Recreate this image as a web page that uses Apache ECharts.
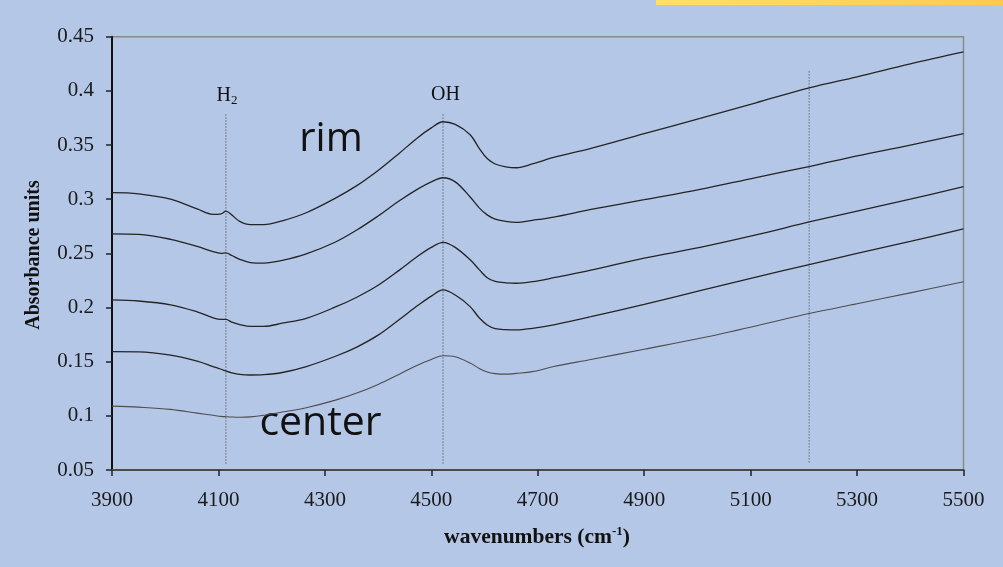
<!DOCTYPE html>
<html>
<head>
<meta charset="utf-8">
<title>Absorbance spectra, rim to center</title>
<script src="https://cdn.jsdelivr.net/npm/echarts@6/dist/echarts.min.js"></script>
<style>
  html, body { margin: 0; padding: 0; background: #b4c7e7; }
  #chart { width: 1003px; height: 567px; }
</style>
</head>
<body>
<div id="chart"></div>
<script>
// Wavenumber grid (cm-1) shared by all spectra
const wavenumbers = [3900, 3950, 4010, 4060, 4090, 4105, 4114, 4125, 4140, 4160, 4185, 4220, 4265, 4320, 4360, 4400, 4440, 4475, 4500, 4522, 4545, 4573, 4590, 4605, 4620, 4640, 4660, 4690, 4730, 4800, 4900, 5005, 5110, 5212, 5300, 5400, 5500];

// Absorbance profiles, from the rim (top) to the center (bottom)
const rimSpectrum = [0.306, 0.305, 0.300, 0.291, 0.286, 0.2865, 0.289, 0.2855, 0.2795, 0.2765, 0.2765, 0.280, 0.2875, 0.301, 0.3125, 0.3265, 0.3425, 0.357, 0.3658, 0.3715, 0.369, 0.3595, 0.347, 0.3375, 0.3325, 0.3298, 0.329, 0.3325, 0.3385, 0.347, 0.3605, 0.3745, 0.389, 0.403, 0.413, 0.425, 0.436];
const spectrum2 = [0.268, 0.2675, 0.263, 0.2565, 0.2515, 0.250, 0.2505, 0.248, 0.2445, 0.2415, 0.241, 0.2435, 0.2495, 0.2605, 0.2715, 0.2845, 0.2985, 0.3095, 0.316, 0.3198, 0.316, 0.302, 0.292, 0.2855, 0.2815, 0.2795, 0.2786, 0.2805, 0.2835, 0.2905, 0.2995, 0.309, 0.320, 0.3303, 0.340, 0.350, 0.3606];
const spectrum3 = [0.207, 0.206, 0.2025, 0.196, 0.1905, 0.189, 0.189, 0.1865, 0.1843, 0.1825, 0.1825, 0.1855, 0.190, 0.2005, 0.2095, 0.2205, 0.2345, 0.2475, 0.2555, 0.2602, 0.2555, 0.244, 0.235, 0.2275, 0.2242, 0.2228, 0.2224, 0.2238, 0.2275, 0.2345, 0.2455, 0.2555, 0.267, 0.2792, 0.289, 0.300, 0.3115];
const spectrum4 = [0.1592, 0.159, 0.156, 0.1505, 0.1455, 0.143, 0.1414, 0.1397, 0.1382, 0.1377, 0.138, 0.140, 0.1455, 0.155, 0.1635, 0.1745, 0.189, 0.202, 0.2105, 0.2162, 0.2115, 0.2008, 0.1905, 0.1838, 0.1805, 0.1795, 0.1793, 0.1808, 0.184, 0.1915, 0.203, 0.2155, 0.228, 0.2399, 0.250, 0.261, 0.2725];
const centerSpectrum = [0.109, 0.108, 0.106, 0.1025, 0.1005, 0.0995, 0.0992, 0.0989, 0.0987, 0.099, 0.1005, 0.1035, 0.1075, 0.1145, 0.121, 0.129, 0.1385, 0.147, 0.152, 0.1555, 0.1545, 0.1487, 0.1438, 0.1405, 0.139, 0.1385, 0.1392, 0.1408, 0.1455, 0.152, 0.1615, 0.1716, 0.183, 0.1947, 0.2035, 0.2135, 0.2238];

// Axis ticks
const xTicks = [3900, 4100, 4300, 4500, 4700, 4900, 5100, 5300, 5500];
const yTicks = [0.05, 0.1, 0.15, 0.2, 0.25, 0.3, 0.35, 0.4, 0.45];

// Band positions marked by dotted verticals: [wavenumber, from, to]
const bandH2 = [4114, 0.056, 0.380];
const bandOH = [4522, 0.056, 0.380];
const band5210 = [5210, 0.057, 0.418];

const serif = "'Liberation Serif', 'DejaVu Serif', serif";
const sans = "'Open Sans', 'Noto Sans', sans-serif";

function pairs(values) {
  return wavenumbers.map((w, i) => [w, values[i]]);
}

function spectrumSeries(name, values, color, width) {
  return {
    name: name,
    type: 'line',
    data: pairs(values),
    smooth: 0.35,
    showSymbol: false,
    silent: true,
    lineStyle: { color: color, width: width },
    z: 3
  };
}

function bandSeries(band) {
  return {
    type: 'line',
    data: [[band[0], band[1]], [band[0], band[2]]],
    showSymbol: false,
    silent: true,
    lineStyle: { color: '#3a3a3a', width: 1, type: [1, 2] },
    z: 2
  };
}

const chart = echarts.init(document.getElementById('chart'), null, { renderer: 'canvas' });

chart.setOption({
  backgroundColor: '#b4c7e7',
  animation: false,
  grid: {
    left: 112, right: 39.5, top: 36.7, bottom: 97,
    show: true, borderColor: '#8a8a8a', borderWidth: 1.5,
    backgroundColor: 'transparent'
  },
  xAxis: {
    type: 'value',
    min: 3900, max: 5500,
    splitLine: { show: false },
    axisLine: { show: true, onZero: false, lineStyle: { color: '#4a4a4a', width: 2 } },
    axisTick: { show: true, inside: false, length: 6, customValues: xTicks, lineStyle: { color: '#222', width: 1.5 } },
    axisLabel: {
      customValues: xTicks, margin: 20, color: '#1a1a1a', fontFamily: serif, fontSize: 21,
      formatter: (v) => String(v)
    }
  },
  yAxis: {
    type: 'value',
    min: 0.05, max: 0.45,
    splitLine: { show: false },
    axisLine: { show: true, onZero: false, lineStyle: { color: '#111', width: 2 } },
    axisTick: { show: true, inside: false, length: 6, customValues: yTicks, lineStyle: { color: '#222', width: 1.5 } },
    axisLabel: {
      customValues: yTicks, margin: 18, color: '#1a1a1a', fontFamily: serif, fontSize: 21,
      formatter: (v) => String(Math.round(v * 100) / 100)
    }
  },
  series: [
    bandSeries(bandH2),
    bandSeries(bandOH),
    bandSeries(band5210),
    spectrumSeries('rim', rimSpectrum, '#242424', 1.3),
    spectrumSeries('2', spectrum2, '#242424', 1.3),
    spectrumSeries('3', spectrum3, '#242424', 1.3),
    spectrumSeries('4', spectrum4, '#242424', 1.3),
    spectrumSeries('center', centerSpectrum, '#4d4d4d', 1.1)
  ],
  graphic: [
    {
      type: 'rect',
      shape: { x: 656, y: 0, width: 347, height: 5 },
      style: {
        fill: new echarts.graphic.LinearGradient(0, 0, 1, 0, [
          { offset: 0, color: '#ffe066' },
          { offset: 1, color: '#ffc94f' }
        ])
      },
      silent: true
    },
    {
      type: 'text',
      x: 227, y: 96,
      style: {
        text: '{h|H}{s|2}',
        textAlign: 'center', textVerticalAlign: 'middle',
        rich: {
          h: { fontFamily: serif, fontSize: 20, fill: '#111' },
          s: { fontFamily: serif, fontSize: 13, fill: '#111', padding: [9, 0, 0, 0] }
        }
      },
      silent: true
    },
    {
      type: 'text',
      x: 445.5, y: 95,
      style: { text: 'OH', fontFamily: serif, fontSize: 20, fill: '#111', textAlign: 'center', textVerticalAlign: 'middle' },
      silent: true
    },
    {
      type: 'text',
      x: 331, y: 140,
      style: { text: 'rim', fontFamily: sans, fontSize: 40, fill: '#111', textAlign: 'center', textVerticalAlign: 'middle' },
      silent: true
    },
    {
      type: 'text',
      x: 320.5, y: 423,
      style: { text: 'center', fontFamily: sans, fontSize: 41, fill: '#111', textAlign: 'center', textVerticalAlign: 'middle' },
      silent: true
    },
    {
      type: 'text',
      x: 537, y: 537,
      style: {
        text: '{t|wavenumbers (cm}{u|-1}{t|)}',
        textAlign: 'center', textVerticalAlign: 'middle',
        rich: {
          t: { fontFamily: serif, fontSize: 21.5, fontWeight: 'bold', fill: '#111' },
          u: { fontFamily: serif, fontSize: 13, fontWeight: 'bold', fill: '#111', padding: [0, 0, 10, 0] }
        }
      },
      silent: true
    },
    {
      type: 'text',
      x: 34, y: 255,
      rotation: Math.PI / 2,
      style: { text: 'Absorbance units', fontFamily: serif, fontSize: 20, fontWeight: 'bold', fill: '#111', textAlign: 'center', textVerticalAlign: 'middle' },
      silent: true
    }
  ]
});
</script>
</body>
</html>
